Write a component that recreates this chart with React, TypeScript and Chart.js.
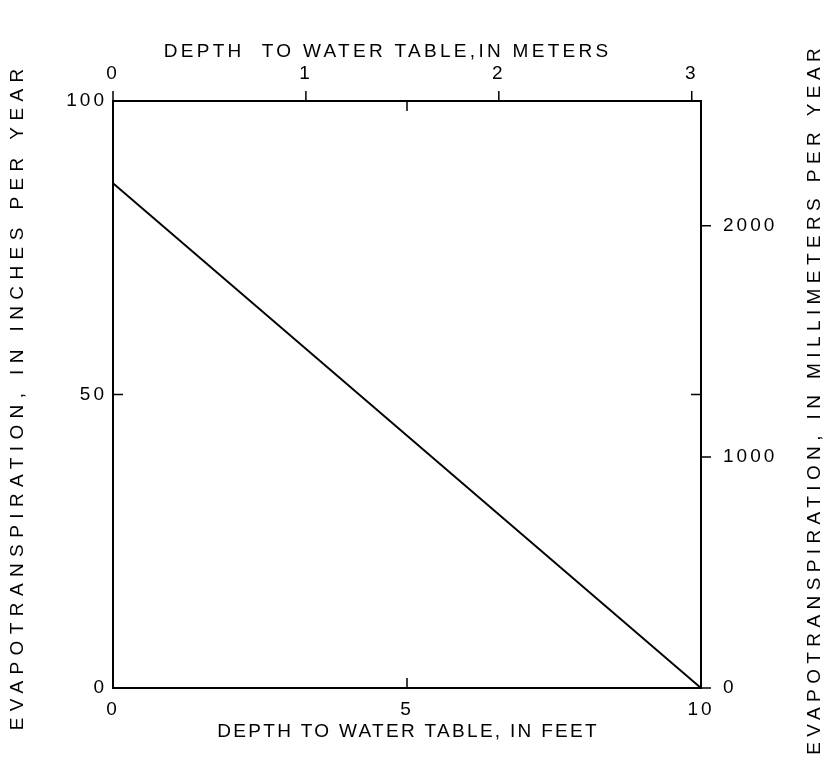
import { useEffect, useRef } from "react";
import { Chart, registerables } from "chart.js";

Chart.register(...registerables);

// Evapotranspiration falls linearly with depth to the water table
const depthFeet = [0, 10];
const evapInchesPerYear = [86, 0];

// Tick values on each of the four axes
const feetTicks = [0, 5, 10];
const meterTicks = [0, 1, 2, 3];
const inchTicks = [0, 50, 100];
const mmTicks = [0, 1000, 2000];

// Axis titles
const bottomTitle = "DEPTH TO WATER TABLE, IN FEET";
const topTitle = "DEPTH  TO WATER TABLE,IN METERS";
const leftTitle = "EVAPOTRANSPIRATION, IN INCHES PER YEAR";
const rightTitle = "EVAPOTRANSPIRATION, IN MILLIMETERS PER YEAR";

// Unit conversions for the secondary axes
const FT_TO_M = 0.3048;
const IN_TO_MM = 25.4;
const FEET_MAX = 10;
const INCH_MAX = 100;

const FONT_FAMILY = '"Liberation Sans", Arial, Helvetica, sans-serif';
const TICK_SPACING = 3;
const TICK_LEN = 10;

function drawSpacedText(
  ctx: CanvasRenderingContext2D,
  text: string,
  x: number,
  y: number,
  rotation: number,
  spacing: number
) {
  ctx.save();
  ctx.translate(x, y);
  ctx.rotate(rotation);
  (ctx as any).letterSpacing = spacing + "px";
  ctx.font = "19px " + FONT_FAMILY;
  ctx.fillStyle = "#000";
  ctx.textAlign = "center";
  ctx.textBaseline = "middle";
  ctx.fillText(text, spacing / 2, 0);
  ctx.restore();
}

const letterSpacingPlugin = {
  id: "letterSpacing",
  beforeDraw(chart: any) {
    chart.ctx.letterSpacing = TICK_SPACING + "px";
  },
  afterDraw(chart: any) {
    chart.ctx.letterSpacing = "0px";
  },
};

const tickMarksPlugin = {
  id: "tickMarks",
  afterDraw(chart: any) {
    const { ctx, chartArea: a, scales } = chart;
    ctx.save();
    ctx.strokeStyle = "#000";
    ctx.lineWidth = 1.5;
    ctx.beginPath();
    // feet ticks point inward on bottom and top edges
    for (const t of scales.x.ticks) {
      const px = scales.x.getPixelForValue(t.value);
      ctx.moveTo(px, a.bottom);
      ctx.lineTo(px, a.bottom - TICK_LEN);
      ctx.moveTo(px, a.top);
      ctx.lineTo(px, a.top + TICK_LEN);
    }
    // inch ticks point inward on left and right edges
    for (const t of scales.y.ticks) {
      const py = scales.y.getPixelForValue(t.value);
      ctx.moveTo(a.left, py);
      ctx.lineTo(a.left + TICK_LEN, py);
      ctx.moveTo(a.right, py);
      ctx.lineTo(a.right - TICK_LEN, py);
    }
    // meter ticks point outward above the top edge
    for (const t of scales.x2.ticks) {
      const px = scales.x2.getPixelForValue(t.value);
      ctx.moveTo(px, a.top);
      ctx.lineTo(px, a.top - TICK_LEN);
    }
    // millimeter ticks point outward right of the right edge
    for (const t of scales.y2.ticks) {
      const py = scales.y2.getPixelForValue(t.value);
      ctx.moveTo(a.right, py);
      ctx.lineTo(a.right + TICK_LEN, py);
    }
    ctx.stroke();
    ctx.restore();
  },
};

const axisTitlesPlugin = {
  id: "axisTitles",
  afterDraw(chart: any) {
    const { ctx, chartArea: a } = chart;
    const cx = (a.left + a.right) / 2;
    const cy = (a.top + a.bottom) / 2;
    drawSpacedText(ctx, bottomTitle, cx, a.bottom + 44, 0, 2.3);
    drawSpacedText(ctx, topTitle, cx - 21, a.top - 49, 0, 3.3);
    drawSpacedText(ctx, leftTitle, 18, cy + 5, -Math.PI / 2, 6.4);
    drawSpacedText(ctx, rightTitle, 815, cy + 7, -Math.PI / 2, 5.4);
  },
};

const fixedSize = (prop: "width" | "height", size: number) => (scale: any) => {
  scale[prop] = size;
};

const setTicks = (values: number[]) => (scale: any) => {
  scale.ticks = values.map((value) => ({ value }));
};

const plainNumber = (value: number | string) => String(value);

export default function App() {
  const canvasRef = useRef<HTMLCanvasElement | null>(null);

  useEffect(() => {
    const canvas = canvasRef.current;
    if (!canvas) return;

    const tickFont = { family: FONT_FAMILY, size: 19 };
    const border = { display: true, color: "#000", width: 2 };
    const noGrid = { display: false, drawTicks: false };

    const chart = new Chart(canvas, {
      type: "scatter",
      data: {
        datasets: [
          {
            data: depthFeet.map((x, i) => ({ x, y: evapInchesPerYear[i] })),
            showLine: true,
            borderColor: "#000",
            borderWidth: 2,
            pointRadius: 0,
            xAxisID: "x",
            yAxisID: "y",
          },
        ],
      },
      options: {
        responsive: false,
        animation: false,
        layout: { padding: 0 },
        plugins: {
          legend: { display: false },
          tooltip: { enabled: false },
          title: { display: false },
        },
        scales: {
          x: {
            type: "linear",
            position: "bottom",
            min: 0,
            max: FEET_MAX,
            grid: noGrid,
            border,
            ticks: { font: tickFont, color: "#000", padding: 10, maxRotation: 0, callback: plainNumber },
            afterBuildTicks: setTicks(feetTicks),
            afterFit: fixedSize("height", 79),
          },
          x2: {
            type: "linear",
            position: "top",
            min: 0,
            max: FEET_MAX * FT_TO_M,
            grid: noGrid,
            border,
            ticks: { font: tickFont, color: "#000", padding: 16, maxRotation: 0, callback: plainNumber },
            afterBuildTicks: setTicks(meterTicks),
            afterFit: fixedSize("height", 101),
          },
          y: {
            type: "linear",
            position: "left",
            min: 0,
            max: INCH_MAX,
            grid: noGrid,
            border,
            ticks: { font: tickFont, color: "#000", padding: 6, callback: plainNumber },
            afterBuildTicks: setTicks(inchTicks),
            afterFit: fixedSize("width", 113),
          },
          y2: {
            type: "linear",
            position: "right",
            min: 0,
            max: INCH_MAX * IN_TO_MM,
            grid: noGrid,
            border,
            ticks: { font: tickFont, color: "#000", padding: 22, callback: plainNumber },
            afterBuildTicks: setTicks(mmTicks),
            afterFit: fixedSize("width", 128),
          },
        },
      },
      plugins: [letterSpacingPlugin, tickMarksPlugin, axisTitlesPlugin],
    } as any);

    return () => chart.destroy();
  }, []);

  return (
    <div style={{ position: "absolute", left: 0, top: 0, width: 829, height: 767, background: "#fff" }}>
      <canvas ref={canvasRef} width={829} height={767} />
    </div>
  );
}
